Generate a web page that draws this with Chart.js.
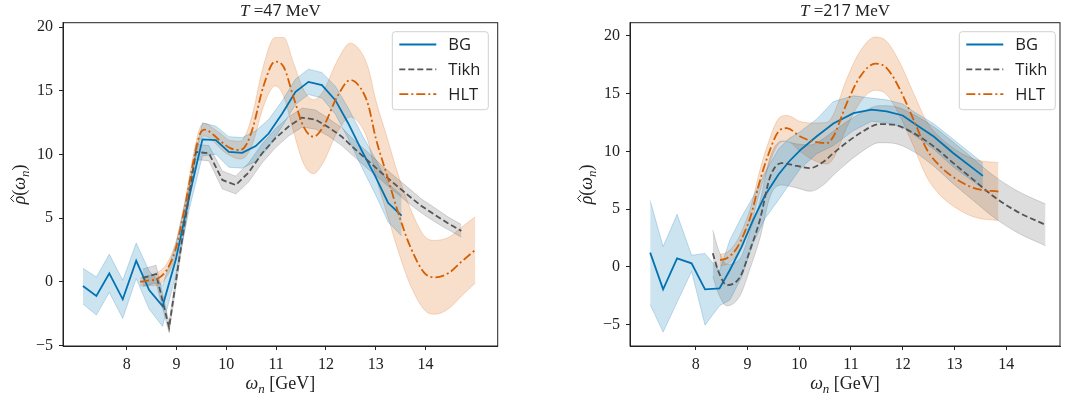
<!DOCTYPE html>
<html>
<head>
<meta charset="utf-8">
<script src="https://cdn.jsdelivr.net/npm/chart.js@4.4.1/dist/chart.umd.min.js"></script>
<style>
  html, body { margin: 0; padding: 0; background: #fff; }
  body { width: 1065px; height: 401px; position: relative; overflow: hidden; }
  canvas { position: absolute; top: 0; }
  #c47 { left: 0; }
  #c217 { left: 567px; }
</style>
</head>
<body>
<canvas id="c47" width="532" height="401"></canvas>
<canvas id="c217" width="498" height="401"></canvas>
<script>
const xTicks = [8, 9, 10, 11, 12, 13, 14];
const yTicks = [-5, 0, 5, 10, 15, 20];
const seriesNames = ['BG', 'Tikh', 'HLT'];

// T = 47 MeV
const bg47X = [7.12, 7.39, 7.65, 7.92, 8.19, 8.45, 8.72, 8.99, 9.25, 9.52, 9.79, 10.05, 10.32, 10.59, 10.85, 11.12, 11.39, 11.65, 11.92, 12.19, 12.45, 12.72, 12.99, 13.25, 13.52];
const bg47Y = [-0.34, -1.12, 0.66, -1.38, 1.65, -0.65, -1.91, 1.8, 6.6, 11.19, 11.13, 10.2, 10.13, 10.66, 11.65, 13.2, 14.93, 15.71, 15.45, 14.27, 12.44, 10.3, 8.3, 6.2, 5.2];
const bg47Err = [1.4, 1.5, 1.5, 1.5, 1.4, 1.5, 1.6, 1.2, 1.0, 1.3, 1.1, 1.2, 1.2, 1.2, 1.1, 1.0, 1.0, 1.0, 1.0, 1.1, 1.2, 1.3, 1.4, 1.5, 1.6];

const tikh47X = [8.32, 8.59, 8.85, 9.12, 9.39, 9.65, 9.92, 10.19, 10.45, 10.72, 10.99, 11.25, 11.52, 11.79, 12.05, 12.32, 12.59, 12.85, 13.12, 13.39, 13.65, 13.92, 14.19, 14.45, 14.72];
const tikh47Y = [0.3, 0.6, -3.6, 3.5, 10.2, 10.1, 8.0, 7.6, 8.6, 10.1, 11.3, 12.2, 12.9, 12.75, 12.15, 11.4, 10.4, 9.5, 8.55, 7.65, 6.8, 5.95, 5.25, 4.6, 4.0];
const tikh47Err = [0.7, 0.7, 0.4, 0.5, 0.6, 0.6, 0.7, 0.7, 0.75, 0.75, 0.75, 0.75, 0.75, 0.75, 0.7, 0.7, 0.65, 0.65, 0.6, 0.6, 0.6, 0.55, 0.55, 0.5, 0.5];

const hlt47X = [8.27, 8.45, 8.6, 8.8, 8.97, 9.07, 9.17, 9.34, 9.47, 9.57, 9.74, 9.9, 10.08, 10.28, 10.41, 10.54, 10.74, 10.98, 11.15, 11.35, 11.55, 11.75, 11.95, 12.22, 12.49, 12.7, 12.85, 13.0, 13.2, 13.47, 13.7, 14.0, 14.2, 14.47, 14.73, 15.0];
const hlt47Y = [0.0, 0.1, 0.2, 0.9, 2.4, 4.0, 5.9, 9.5, 11.6, 11.95, 11.55, 11.0, 10.5, 10.35, 10.85, 12.2, 15.3, 17.3, 16.9, 14.5, 12.2, 11.4, 12.2, 14.5, 15.85, 15.2, 13.9, 11.3, 8.7, 5.2, 2.7, 0.6, 0.35, 0.7, 1.6, 2.5];
const hlt47Err = [0.3, 0.4, 0.5, 0.5, 0.5, 0.5, 0.5, 0.5, 0.5, 0.5, 0.5, 0.6, 0.6, 0.7, 0.9, 1.2, 1.6, 1.9, 2.3, 2.7, 2.9, 2.9, 2.8, 2.8, 2.9, 2.9, 2.9, 3.0, 3.0, 3.0, 3.0, 2.9, 2.9, 2.8, 2.7, 2.6];

// T = 217 MeV
const bg217X = [7.12, 7.37, 7.64, 7.92, 8.18, 8.46, 8.66, 8.89, 9.11, 9.34, 9.6, 9.8, 10.02, 10.34, 10.66, 11.05, 11.4, 11.69, 12.0, 12.21, 12.6, 12.98, 13.55];
const bg217Y = [1.24, -1.93, 0.75, 0.32, -1.93, -1.85, -0.26, 1.76, 4.07, 6.2, 8.0, 9.1, 10.1, 11.3, 12.4, 13.3, 13.6, 13.45, 13.1, 12.44, 11.28, 9.84, 7.88];
const bg217Err = [4.5, 3.7, 3.8, 0.7, 3.1, 1.5, 2.6, 2.6, 2.0, 2.0, 2.2, 2.0, 1.6, 1.5, 1.9, 1.5, 1.0, 1.0, 1.0, 1.0, 1.1, 1.2, 1.1];

const tikh217X = [8.33, 8.44, 8.6, 8.86, 9.05, 9.24, 9.44, 9.66, 9.95, 10.21, 10.47, 10.66, 11.18, 11.56, 11.82, 12.21, 12.6, 12.98, 13.37, 13.76, 14.21, 14.76];
const tikh217Y = [1.19, -0.4, -1.56, -0.84, 1.47, 4.07, 7.82, 8.98, 8.74, 8.55, 9.1, 9.84, 11.58, 12.35, 12.3, 11.58, 10.42, 8.98, 7.53, 6.09, 4.79, 3.64];
const tikh217Err = [2.0, 1.9, 1.8, 1.6, 1.6, 1.6, 1.7, 1.9, 1.9, 2.0, 2.0, 1.9, 1.7, 1.6, 1.6, 1.6, 1.7, 1.8, 1.8, 1.8, 1.8, 1.8];

const hlt217X = [8.47, 8.6, 8.79, 8.95, 9.08, 9.21, 9.37, 9.63, 9.76, 10.02, 10.27, 10.53, 10.66, 10.92, 11.18, 11.47, 11.69, 11.95, 12.21, 12.47, 12.73, 13.11, 13.43, 13.85];
const hlt217Y = [0.6, 0.75, 1.6, 3.06, 4.65, 6.95, 9.3, 11.86, 12.0, 11.28, 10.85, 10.7, 11.28, 14.17, 16.47, 17.58, 17.2, 15.32, 12.73, 10.13, 8.68, 7.39, 6.75, 6.52];
const hlt217Err = [0.5, 0.5, 0.6, 0.7, 0.8, 0.9, 1.0, 1.1, 1.1, 1.3, 1.6, 1.8, 1.9, 2.1, 2.2, 2.3, 2.3, 2.3, 2.3, 2.4, 2.5, 2.5, 2.5, 2.5];

const colors = { BG: '#0173b2', Tikh: '#555555', HLT: '#d55e00' };
const dashes = { BG: [], Tikh: [6, 3], HLT: [9, 3, 2, 3] };
const serif = 'Liberation Serif';
const ink = '#222';

function rgba(hex, a) {
    const n = parseInt(hex.slice(1), 16);
    return 'rgba(' + (n >> 16) + ',' + ((n >> 8) & 255) + ',' + (n & 255) + ',' + a + ')';
}

function fmt(v) {
    return v < 0 ? '\u2212' + Math.abs(v) : String(v);
}

function buildDatasets(series) {
    const sets = [];
    series.forEach((s, k) => {
        const col = colors[s.name];
        const mode = s.smooth ? 'monotone' : 'default';
        const band = {
            pointRadius: 0, borderWidth: 1, borderColor: rgba(col, 0.22),
            cubicInterpolationMode: mode, tension: 0, order: 10
        };
        sets.push(Object.assign({}, band, {
            data: s.xs.map((x, i) => ({ x: x, y: s.ys[i] + s.errs[i] })),
            fill: '+1', backgroundColor: rgba(col, 0.2)
        }));
        sets.push(Object.assign({}, band, {
            data: s.xs.map((x, i) => ({ x: x, y: s.ys[i] - s.errs[i] })),
            fill: false
        }));
        sets.push({
            label: s.name,
            data: s.xs.map((x, i) => ({ x: x, y: s.ys[i] })),
            borderColor: col, borderWidth: 1.8, borderDash: dashes[s.name],
            pointRadius: 0, fill: false, cubicInterpolationMode: mode, tension: 0,
            order: 3 - k
        });
    });
    return sets;
}

// draw a row of text pieces centred on cx, with optional subscript shift and hat
function drawParts(ctx, parts, cx, y) {
    let w = 0;
    parts.forEach(p => { ctx.font = p.f; p.w = ctx.measureText(p.t).width; w += p.w; });
    let x = cx - w / 2;
    ctx.fillStyle = ink;
    ctx.textBaseline = 'alphabetic';
    parts.forEach(p => {
        ctx.font = p.f;
        ctx.fillText(p.t, x, y + (p.dy || 0));
        if (p.hat) {
            const hx = x + p.w / 2 + 1.5;
            ctx.beginPath();
            ctx.strokeStyle = ink;
            ctx.lineWidth = 1;
            ctx.moveTo(hx - 3.5, y - 11);
            ctx.lineTo(hx, y - 14.5);
            ctx.lineTo(hx + 3.5, y - 11);
            ctx.stroke();
        }
        x += p.w;
    });
}

const framePlugin = {
    id: 'frame',
    afterDraw(chart) {
        const a = chart.chartArea, ctx = chart.ctx;
        ctx.save();
        ctx.strokeStyle = ink;
        ctx.lineWidth = 1;
        ctx.strokeRect(a.left, a.top, a.right - a.left, a.bottom - a.top);
        ctx.restore();
    }
};

const textPlugin = {
    id: 'mathText',
    afterDraw(chart, args, opts) {
        const ctx = chart.ctx, a = chart.chartArea;
        const it = 'italic 18px "' + serif + '"';
        const up = '18px "' + serif + '"';
        const sub = 'italic 13px "' + serif + '"';
        ctx.save();
        drawParts(ctx, [
            { t: 'T', f: 'italic 17px "' + serif + '"' },
            { t: ' =', f: '17px "' + serif + '"' },
            { t: opts.temp, f: '16px "Open Sans"' },
            { t: ' MeV', f: '17px "' + serif + '"' }
        ], (a.left + a.right) / 2, 16);
        drawParts(ctx, [
            { t: '\u03c9', f: it },
            { t: 'n', f: sub, dy: 3.5 },
            { t: ' [GeV]', f: up }
        ], (a.left + a.right) / 2, 389);
        ctx.translate(25, (a.top + a.bottom) / 2);
        ctx.rotate(-Math.PI / 2);
        drawParts(ctx, [
            { t: '\u03c1', f: it, hat: true },
            { t: '(', f: up },
            { t: '\u03c9', f: it },
            { t: 'n', f: sub, dy: 3.5 },
            { t: ')', f: up }
        ], 0, 0);
        ctx.restore();
    }
};

const legendPlugin = {
    id: 'boxLegend',
    afterDraw(chart, args, opts) {
        const ctx = chart.ctx, a = chart.chartArea;
        const bw = 96, bh = 78;
        const L = a.right - opts.right - bw, T = a.top + 9;
        ctx.save();
        ctx.beginPath();
        ctx.roundRect(L, T, bw, bh, 3);
        ctx.fillStyle = 'rgba(255,255,255,0.8)';
        ctx.fill();
        ctx.strokeStyle = '#d0d0d0';
        ctx.lineWidth = 1;
        ctx.stroke();
        ctx.font = '16.5px "Open Sans"';
        ctx.textBaseline = 'middle';
        seriesNames.forEach((name, i) => {
            const y = T + 12.8 + i * 24.8;
            ctx.beginPath();
            ctx.setLineDash(dashes[name]);
            ctx.strokeStyle = colors[name];
            ctx.lineWidth = 1.8;
            ctx.moveTo(L + 7, y);
            ctx.lineTo(L + 44, y);
            ctx.stroke();
            ctx.setLineDash([]);
            ctx.fillStyle = ink;
            ctx.fillText(name, L + 56, y + 1);
        });
        ctx.restore();
    }
};

function makeChart(id, temp, series, xMin, xMax, yMin, yMax, padRight, legendRight) {
    new Chart(document.getElementById(id).getContext('2d'), {
        type: 'line',
        data: { datasets: buildDatasets(series) },
        plugins: [framePlugin, textPlugin, legendPlugin],
        options: {
            responsive: false,
            animation: false,
            layout: { padding: { left: 0, right: padRight, top: 22.7, bottom: 0 } },
            plugins: {
                legend: { display: false },
                tooltip: { enabled: false },
                mathText: { temp: temp },
                boxLegend: { right: legendRight }
            },
            scales: {
                x: {
                    type: 'linear', min: xMin, max: xMax,
                    afterBuildTicks: ax => { ax.ticks = xTicks.map(v => ({ value: v })); },
                    afterFit: s => { s.height = 55; },
                    ticks: { autoSkip: false, maxRotation: 0, padding: 5, color: ink,
                             font: { family: serif, size: 16 }, callback: v => fmt(v) },
                    grid: { drawOnChartArea: false, tickLength: 4, color: ink },
                    border: { color: ink, width: 1 }
                },
                y: {
                    type: 'linear', min: yMin, max: yMax,
                    afterBuildTicks: ax => { ax.ticks = yTicks.map(v => ({ value: v })); },
                    afterFit: s => { s.width = 63; },
                    ticks: { autoSkip: false, padding: 6, color: ink,
                             font: { family: serif, size: 16 }, callback: v => fmt(v) },
                    grid: { drawOnChartArea: false, tickLength: 4, color: ink },
                    border: { color: ink, width: 1 }
                }
            }
        }
    });
}

makeChart('c47', '47', [
    { name: 'BG', xs: bg47X, ys: bg47Y, errs: bg47Err, smooth: false },
    { name: 'Tikh', xs: tikh47X, ys: tikh47Y, errs: tikh47Err, smooth: false },
    { name: 'HLT', xs: hlt47X, ys: hlt47Y, errs: hlt47Err, smooth: true }
], 6.72, 15.45, -5.05, 20.36, 34.3, 9.4);

makeChart('c217', '217', [
    { name: 'BG', xs: bg217X, ys: bg217Y, errs: bg217Err, smooth: false },
    { name: 'Tikh', xs: tikh217X, ys: tikh217Y, errs: tikh217Err, smooth: true },
    { name: 'HLT', xs: hlt217X, ys: hlt217Y, errs: hlt217Err, smooth: true }
], 6.73, 15.04, -6.83, 21.12, 5, 4.7);
</script>
</body>
</html>
